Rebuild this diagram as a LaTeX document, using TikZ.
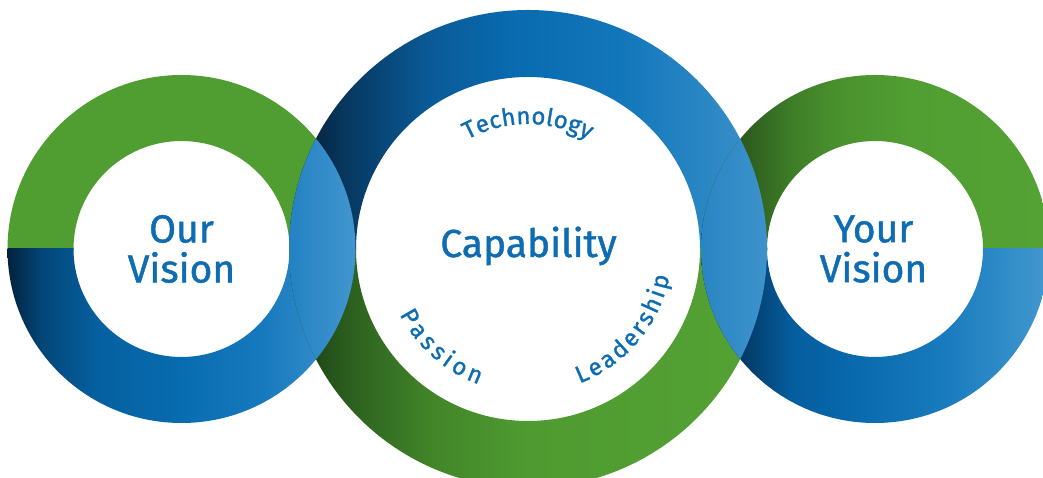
\documentclass[tikz,border=0pt]{standalone}
\usepackage{fontspec}
\setmainfont{Fira Sans}
\newfontfamily\ringfont{Fira Sans}[FakeBold=1.2]
\usetikzlibrary{calc,decorations.text}

\definecolor{textblue}{RGB}{14,108,178}
\definecolor{leftgreen}{RGB}{80,157,49}

% Ring shadings (the path box maps to 25bp..75bp)
\pgfdeclarehorizontalshading{leftblue}{100bp}{color(0bp)=(rgb,255:red,2;green,34;blue,61); color(25bp)=(rgb,255:red,2;green,34;blue,61); color(30bp)=(rgb,255:red,3;green,70;blue,120); color(38bp)=(rgb,255:red,5;green,96;blue,160); color(50bp)=(rgb,255:red,8;green,108;blue,176); color(62bp)=(rgb,255:red,24;green,122;blue,190); color(75bp)=(rgb,255:red,66;green,150;blue,206); color(100bp)=(rgb,255:red,66;green,150;blue,206)}
\pgfdeclarehorizontalshading{midblue}{100bp}{color(0bp)=(rgb,255:red,5;green,27;blue,48); color(25bp)=(rgb,255:red,5;green,27;blue,48); color(32bp)=(rgb,255:red,7;green,60;blue,102); color(40bp)=(rgb,255:red,10;green,91;blue,152); color(48bp)=(rgb,255:red,9;green,106;blue,174); color(60bp)=(rgb,255:red,19;green,119;blue,187); color(75bp)=(rgb,255:red,61;green,146;blue,202); color(100bp)=(rgb,255:red,61;green,146;blue,202)}
\pgfdeclarehorizontalshading{midgreen}{100bp}{color(0bp)=(rgb,255:red,23;green,58;blue,16); color(25bp)=(rgb,255:red,23;green,58;blue,16); color(32bp)=(rgb,255:red,46;green,99;blue,32); color(40bp)=(rgb,255:red,65;green,133;blue,40); color(50bp)=(rgb,255:red,79;green,155;blue,49); color(75bp)=(rgb,255:red,84;green,161;blue,52); color(100bp)=(rgb,255:red,84;green,161;blue,52)}
\pgfdeclarehorizontalshading{rightgreen}{100bp}{color(0bp)=(rgb,255:red,30;green,66;blue,20); color(25bp)=(rgb,255:red,30;green,66;blue,20); color(31bp)=(rgb,255:red,44;green,90;blue,30); color(38bp)=(rgb,255:red,62;green,125;blue,39); color(45bp)=(rgb,255:red,74;green,146;blue,46); color(55bp)=(rgb,255:red,81;green,158;blue,50); color(75bp)=(rgb,255:red,84;green,161;blue,52); color(100bp)=(rgb,255:red,84;green,161;blue,52)}
\pgfdeclarehorizontalshading{rightblue}{100bp}{color(0bp)=(rgb,255:red,1;green,31;blue,58); color(25bp)=(rgb,255:red,1;green,31;blue,58); color(31bp)=(rgb,255:red,2;green,58;blue,102); color(38bp)=(rgb,255:red,5;green,93;blue,158); color(46bp)=(rgb,255:red,8;green,104;blue,172); color(60bp)=(rgb,255:red,24;green,123;blue,190); color(75bp)=(rgb,255:red,67;green,152;blue,206); color(100bp)=(rgb,255:red,67;green,152;blue,206)}

\newcommand\arcfont{\ringfont\fontsize{24}{28}\selectfont}

\begin{document}
\begin{tikzpicture}[x=1pt,y=1pt,
    visiontext/.style={text=textblue, font=\ringfont\fontsize{39}{40}\selectfont, align=center, inner sep=0pt},
    arcword/.style={decorate, decoration={text along path, text align={fit to path}, text color=textblue, text={#1}}}]

  % Ring centres
  \coordinate (lc) at (181.5,229);
  \coordinate (mc) at (528,229);
  \coordinate (rc) at (875,229);

  % Frame
  \useasboundingbox (0,0) rectangle (1043,478);
  \clip (0,0) rectangle (1043,478);

  % Left ring: green on top, blue below
  \begin{scope}
    \clip (0,228) rectangle (1043,478);
    \fill[leftgreen, even odd rule] (lc) circle[radius=174] (lc) circle[radius=108];
  \end{scope}
  \begin{scope}
    \clip (0,0) rectangle (1043,229);
    \shade[shading=leftblue, even odd rule] (lc) circle[radius=174] (lc) circle[radius=108];
  \end{scope}

  % Middle ring: blue on top, green below
  \begin{scope}
    \clip (0,228) rectangle (1043,478);
    \shade[shading=midblue, even odd rule] (mc) circle[radius=239] (mc) circle[radius=172];
  \end{scope}
  \begin{scope}
    \clip (0,0) rectangle (1043,229);
    \shade[shading=midgreen, even odd rule] (mc) circle[radius=239] (mc) circle[radius=172];
  \end{scope}

  % Right ring: green on top, blue below
  \begin{scope}
    \clip (0,228) rectangle (1043,478);
    \shade[shading=rightgreen, even odd rule] (rc) circle[radius=174] (rc) circle[radius=108];
  \end{scope}
  \begin{scope}
    \clip (0,0) rectangle (1043,229);
    \shade[shading=rightblue, even odd rule] (rc) circle[radius=174] (rc) circle[radius=108];
  \end{scope}

  % Overlaps
  \begin{scope}
    \clip (mc) circle[radius=239];
    \shade[shading=leftblue, even odd rule] (lc) circle[radius=174] (lc) circle[radius=108];
  \end{scope}
  \begin{scope}
    \clip (rc) circle[radius=174];
    \shade[shading=midblue, even odd rule] (mc) circle[radius=239] (mc) circle[radius=172];
  \end{scope}

  % Labels
  \node[visiontext] (ourvision) at (lc) {Our\\Vision};
  \node[visiontext] (yourvision) at ($(rc)+(-1.5,0)$) {Your\\Vision};
  \node[visiontext, anchor=base] (capability) at (528.5,221) {Capability};

  % Words round the middle ring
  \begin{scope}
    \arcfont
    \path[arcword=Technology] ($(mc)+(119:125)$) arc[start angle=119, end angle=61, radius=125];
    \path[arcword=Passion] ($(mc)+(207:144)$) arc[start angle=207, end angle=250, radius=144];
    \path[arcword=Leadership] ($(mc)+(291:144)$) arc[start angle=291, end angle=349, radius=144];
  \end{scope}
\end{tikzpicture}
\end{document}
